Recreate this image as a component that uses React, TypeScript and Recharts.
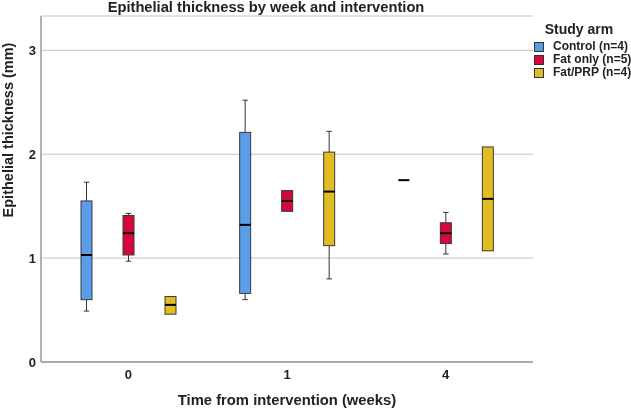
import React from "react";
import { ComposedChart, Bar, XAxis, YAxis, CartesianGrid, Label } from "recharts";

const WEEKS = ["0", "1", "4"];
const ARM_KEYS = ["control", "fatOnly", "fatPrp"];
const ARM_NAMES = ["Control (n=4)", "Fat only (n=5)", "Fat/PRP (n=4)"];
const ARM_COLORS = ["#5b9de8", "#d7063c", "#e2bd22"];

// per week: [whisker low, q1, median, q3, whisker high]
const CONTROL = [
  [0.49, 0.6, 1.03, 1.55, 1.73],
  [0.6, 0.66, 1.32, 2.21, 2.52],
  [1.75, 1.75, 1.75, 1.75, 1.75],
];
const FAT_ONLY = [
  [0.97, 1.03, 1.24, 1.41, 1.43],
  [1.45, 1.45, 1.55, 1.65, 1.65],
  [1.04, 1.14, 1.24, 1.34, 1.44],
];
const FAT_PRP = [
  [0.46, 0.46, 0.55, 0.63, 0.63],
  [0.8, 1.12, 1.64, 2.02, 2.22],
  [1.07, 1.07, 1.57, 2.07, 2.07],
];

const Y_TICKS = [0, 1, 2, 3];
const FONT = "'Liberation Sans', Arial, sans-serif";

const data = WEEKS.map((week, i) => ({
  week,
  control: CONTROL[i],
  fatOnly: FAT_ONLY[i],
  fatPrp: FAT_PRP[i],
}));

// bar goes from 0 to the upper whisker, so the shape can map values to pixels
const boxShape = (key: string, color: string) => (props: any) => {
  const { x, y, width, height, payload } = props;
  const [lo, q1, med, q3, hi] = payload[key];
  const base = y + height;
  const ppu = height / hi;
  const py = (v: number) => base - v * ppu;
  const cx = x + width / 2;
  const cap = width / 4;
  if (q1 === q3) {
    return (
      <line x1={x} x2={x + width} y1={py(med)} y2={py(med)} stroke="#000" strokeWidth={2} />
    );
  }
  return (
    <g>
      {hi > q3 && (
        <g stroke="#333" strokeWidth={1}>
          <line x1={cx} x2={cx} y1={py(hi)} y2={py(q3)} />
          <line x1={cx - cap} x2={cx + cap} y1={py(hi)} y2={py(hi)} />
        </g>
      )}
      {lo < q1 && (
        <g stroke="#333" strokeWidth={1}>
          <line x1={cx} x2={cx} y1={py(q1)} y2={py(lo)} />
          <line x1={cx - cap} x2={cx + cap} y1={py(lo)} y2={py(lo)} />
        </g>
      )}
      <rect
        x={x}
        y={py(q3)}
        width={width}
        height={py(q1) - py(q3)}
        fill={color}
        stroke="#3a3a3a"
        strokeWidth={1}
      />
      <line x1={x} x2={x + width} y1={py(med)} y2={py(med)} stroke="#000" strokeWidth={2} />
    </g>
  );
};

export default function App() {
  return (
    <div
      style={{
        position: "fixed",
        left: 0,
        top: 0,
        width: 631,
        height: 409,
        background: "#fff",
        fontFamily: FONT,
      }}
    >
      <div
        style={{
          position: "absolute",
          left: 0,
          top: 0,
          width: 532,
          textAlign: "center",
          fontSize: 14.7,
          lineHeight: "14px",
          fontWeight: "bold",
          color: "#222",
        }}
      >
        Epithelial thickness by week and intervention
      </div>
      <ComposedChart
        width={631}
        height={409}
        data={data}
        margin={{ top: 16, right: 98, bottom: 0, left: 11 }}
        barSize={11}
        barGap={31}
      >
        <CartesianGrid vertical={false} stroke="#c4c4c4" />
        <XAxis
          dataKey="week"
          height={47}
          padding={{ left: 8, right: 8 }}
          tickLine={false}
          axisLine={{ stroke: "#9a9a9a", strokeWidth: 1.5 }}
          tick={{ fill: "#222", fontSize: 13, fontWeight: "bold", fontFamily: FONT }}
        >
          <Label
            value="Time from intervention (weeks)"
            position="insideBottom"
            offset={4}
            style={{ fill: "#222", fontSize: 14.8, fontWeight: "bold", fontFamily: FONT }}
          />
        </XAxis>
        <YAxis
          width={30}
          domain={[0, 3.33]}
          ticks={Y_TICKS}
          tickLine={false}
          tickSize={3}
          axisLine={{ stroke: "#9a9a9a", strokeWidth: 1.5 }}
          tick={{ fill: "#222", fontSize: 13, fontWeight: "bold", fontFamily: FONT }}
        >
          <Label
            content={() => (
              <text
                x={13}
                y={130}
                transform="rotate(-90 13 130)"
                textAnchor="middle"
                fill="#222"
                fontSize={14.5}
                fontWeight="bold"
                fontFamily={FONT}
              >
                Epithelial thickness (mm)
              </text>
            )}
          />
        </YAxis>
        {ARM_KEYS.map((key, i) => (
          <Bar
            key={key}
            dataKey={(d: any) => d[key][4]}
            name={ARM_NAMES[i]}
            fill={ARM_COLORS[i]}
            shape={boxShape(key, ARM_COLORS[i])}
            isAnimationActive={false}
          />
        ))}
      </ComposedChart>
      <div
        style={{
          position: "absolute",
          left: 534,
          top: 19,
          fontWeight: "bold",
          color: "#222",
          whiteSpace: "nowrap",
        }}
      >
        <div style={{ fontSize: 14, lineHeight: "20px", textAlign: "center", width: 90, marginBottom: 1 }}>
          Study arm
        </div>
        {ARM_NAMES.map((name, i) => (
          <div
            key={name}
            style={{ display: "flex", alignItems: "center", fontSize: 12, lineHeight: "13px" }}
          >
            <span
              style={{
                display: "inline-block",
                width: 8,
                height: 8,
                background: ARM_COLORS[i],
                border: "1px solid #333",
                marginRight: 9,
                flexShrink: 0,
              }}
            />
            {name}
          </div>
        ))}
      </div>
    </div>
  );
}
